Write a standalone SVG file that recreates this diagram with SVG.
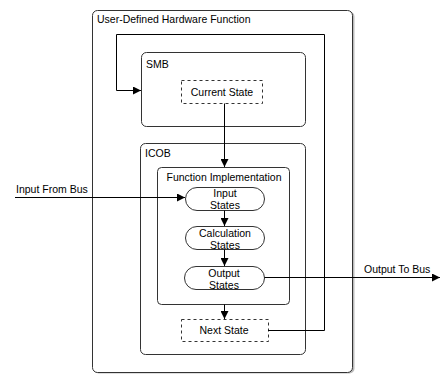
<svg xmlns="http://www.w3.org/2000/svg" width="440" height="374" viewBox="0 0 440 374">
<style>
text{font-family:"Liberation Sans",Arial,sans-serif;font-size:10.5px;fill:#000}
.box{fill:#fff;stroke:#333;stroke-width:1}
.dash{fill:#fff;stroke:#333;stroke-width:1;stroke-dasharray:3,3}
.c{fill:none;stroke:#000;stroke-width:1}
.m{text-anchor:middle}
</style>
<defs>
<marker id="a" viewBox="0 0 10 10" refX="10" refY="5" markerWidth="8" markerHeight="8" markerUnits="userSpaceOnUse" orient="auto"><path d="M0,0 L10,5 L0,10 z" fill="#000"/></marker>
</defs>
<rect width="440" height="374" fill="#fff"/>
<g id="outer">
<rect x="93.5" y="11.5" width="261" height="362" rx="5" fill="#bbb" stroke="none"/>
<rect x="92.5" y="10.5" width="260" height="362" rx="5" class="box"/>
<text x="97" y="23">User-Defined Hardware Function</text>
</g>
<g id="smb">
<rect x="141.5" y="52.5" width="164" height="74" rx="5" class="box"/>
<text x="146" y="68">SMB</text>
</g>
<g id="current">
<rect x="181.5" y="80.5" width="81" height="23" class="dash"/>
<text x="222" y="96" class="m">Current State</text>
</g>
<g id="icob">
<rect x="140.5" y="143.5" width="165" height="211" rx="5" class="box"/>
<text x="145" y="157">ICOB</text>
</g>
<g id="func">
<rect x="157.5" y="167.5" width="132" height="137" rx="4" class="box"/>
<text x="224" y="181" class="m">Function Implementation</text>
</g>
<g id="input">
<rect x="185.5" y="187.5" width="79" height="23" rx="11.5" class="box"/>
<text x="225" y="197" class="m">Input</text>
<text x="225" y="209" class="m">States</text>
</g>
<g id="calc">
<rect x="185.5" y="226.5" width="79" height="23" rx="11.5" class="box"/>
<text x="225" y="237" class="m">Calculation</text>
<text x="225" y="249" class="m">States</text>
</g>
<g id="output">
<rect x="184.5" y="266.5" width="80" height="23" rx="11.5" class="box"/>
<text x="224" y="277" class="m">Output</text>
<text x="224" y="289" class="m">States</text>
</g>
<g id="next">
<rect x="181.5" y="319.5" width="87" height="22" class="dash"/>
<text x="224" y="334" class="m">Next State</text>
</g>
<g id="connectors">
<path class="c" d="M268,330.5 H324.5 V34.5 H116.5 V90.5 H141" marker-end="url(#a)"/>
<path class="c" d="M224.5,103.5 V167" marker-end="url(#a)"/>
<path class="c" d="M224.5,210.5 V226" marker-end="url(#a)"/>
<path class="c" d="M224.5,249.5 V266" marker-end="url(#a)"/>
<path class="c" d="M224.5,304.5 V319" marker-end="url(#a)"/>
<path class="c" d="M15,197.5 H185" marker-end="url(#a)"/>
<path class="c" d="M264.5,277.5 H440" marker-end="url(#a)"/>
<text x="16" y="193">Input From Bus</text>
<text x="364" y="273">Output To Bus</text>
</g>
</svg>
